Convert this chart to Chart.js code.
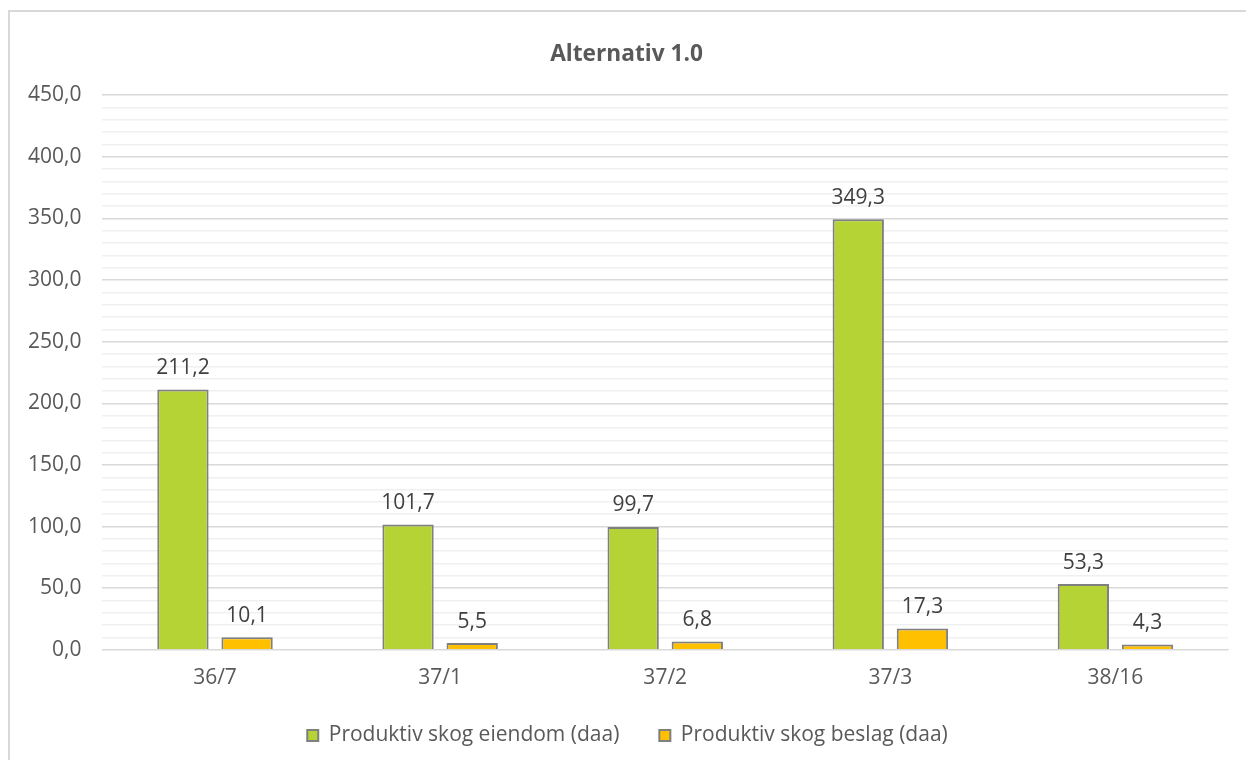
<!DOCTYPE html>
<html>
<head>
<meta charset="utf-8">
<title>Alternativ 1.0</title>
<script src="https://cdn.jsdelivr.net/npm/chart.js@4.4.0/dist/chart.umd.min.js"></script>
<style>
  body { margin: 0; overflow: hidden; background: #fff; }
  #wrap { position: relative; width: 1246px; height: 760px; overflow: hidden; }
  #frame { position: absolute; left: 8px; top: 10px; width: 1300px; height: 800px; border: 2px solid #d9d9d9; }
  #chart { position: absolute; left: 0; top: 0; }
</style>
</head>
<body>
<div id="wrap">
  <div id="frame"></div>
  <canvas id="chart" width="1246" height="762"></canvas>
</div>
<script>
// eiendommer (gnr/bnr)
var categories = ["36/7", "37/1", "37/2", "37/3", "38/16"];
var skogEiendom = [211.2, 101.7, 99.7, 349.3, 53.3];
var skogBeslag = [10.1, 5.5, 6.8, 17.3, 4.3];
var seriesNames = ["Produktiv skog eiendom (daa)", "Produktiv skog beslag (daa)"];

var FONT = "'Open Sans', sans-serif";
var TXT = "#595959";

function komma(v) {
  return v.toFixed(1).replace('.', ',');
}

// verdier over stolpene
var valueLabels = {
  id: 'valueLabels',
  afterDatasetsDraw: function(chart) {
    var ctx = chart.ctx;
    ctx.save();
    ctx.font = "21px " + FONT;
    ctx.fillStyle = "#404040";
    ctx.textAlign = "center";
    ctx.textBaseline = "bottom";
    chart.data.datasets.forEach(function(ds, i) {
      var meta = chart.getDatasetMeta(i);
      meta.data.forEach(function(bar, j) {
        ctx.fillText(komma(ds.data[j]), bar.x, bar.y - 11);
      });
    });
    ctx.restore();
  }
};

// tittel og forklaring litt mot høyre (sentrert på rammen)
var nudge = {
  id: 'nudge',
  afterLayout: function(chart) {
    chart.titleBlock.left += 9;
    chart.titleBlock.right += 9;
    chart.legend.left += 10;
    chart.legend.right += 10;
  }
};

var ch1 = new Chart("chart", {
  type: 'bar',
  data: {
    labels: categories,
    datasets: [{
      label: seriesNames[0],
      data: skogEiendom,
      backgroundColor: '#b5d334',
      borderColor: '#7f7f7f',
      borderWidth: 2,
      categoryPercentage: 0.57,
      barPercentage: 0.8
    }, {
      label: seriesNames[1],
      data: skogBeslag,
      backgroundColor: '#ffc000',
      borderColor: '#7f7f7f',
      borderWidth: 2,
      categoryPercentage: 0.57,
      barPercentage: 0.8
    }]
  },
  options: {
    responsive: false,
    animation: false,
    layout: { padding: { left: 7, right: 18, top: 22, bottom: 6 } },
    plugins: {
      title: {
        display: true,
        text: 'Alternativ 1.0',
        color: TXT,
        font: { family: FONT, size: 22.7, weight: 'bold' },
        padding: { top: 19, bottom: 27 }
      },
      legend: {
        position: 'bottom',
        labels: {
          color: TXT,
          font: { family: FONT, size: 21 },
          boxWidth: 11,
          boxHeight: 11,
          padding: 40
        }
      },
      tooltip: { enabled: false }
    },
    scales: {
      x: {
        grid: { display: false },
        border: { display: true, color: '#d9d9d9' },
        ticks: { color: TXT, font: { family: FONT, size: 21 }, padding: 8 },
        afterFit: function(axis) { axis.height -= 14; }
      },
      y: {
        min: 0,
        max: 450,
        border: { display: false },
        grid: {
          color: function(c) { return c.tick.value % 50 === 0 ? '#d9d9d9' : '#f0f0f0'; },
          lineWidth: 1.5,
          drawTicks: false
        },
        ticks: {
          stepSize: 10,
          autoSkip: false,
          color: TXT,
          font: { family: FONT, size: 21 },
          padding: 21,
          callback: function(v) { return v % 50 === 0 ? komma(v) : ''; }
        }
      }
    }
  },
  plugins: [valueLabels, nudge]
});
</script>
</body>
</html>
